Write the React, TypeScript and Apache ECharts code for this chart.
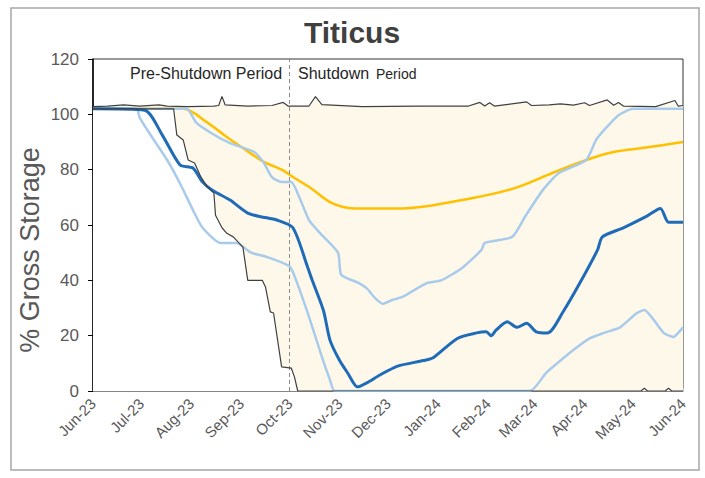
import React, { useEffect, useRef } from "react";
import * as echarts from "echarts";

type Pt = [string, number];

const title = "Titicus";
const yAxisName = "% Gross Storage";
const shutdownStart = "2023-10-01";
const yTicks = [0, 20, 40, 60, 80, 100, 120];

const maxSeries: Pt[] = [
  ["2023-06-01", 102.8], ["2023-06-10", 103], ["2023-06-20", 103.4], ["2023-06-30", 103],
  ["2023-07-12", 103.4], ["2023-07-17", 103], ["2023-07-30", 102.8], ["2023-08-15", 103],
  ["2023-08-18", 103.2], ["2023-08-20", 106.5], ["2023-08-22", 103.4], ["2023-09-05", 103],
  ["2023-09-20", 103.2], ["2023-09-27", 104.3], ["2023-09-30", 103], ["2023-10-13", 103],
  ["2023-10-17", 106.4], ["2023-10-21", 103.5], ["2023-11-15", 102.8], ["2023-12-20", 103],
  ["2024-01-20", 103], ["2024-01-27", 104.3], ["2024-01-30", 103], ["2024-02-02", 104.2],
  ["2024-02-05", 103], ["2024-02-25", 104.5], ["2024-02-28", 103.2], ["2024-03-10", 103.4],
  ["2024-03-17", 103.8], ["2024-03-25", 103.3], ["2024-04-01", 104.2], ["2024-04-04", 103.2],
  ["2024-04-15", 105.2], ["2024-04-19", 103.3], ["2024-04-22", 104.3], ["2024-04-25", 103],
  ["2024-05-15", 102.8], ["2024-05-27", 105], ["2024-05-29", 103], ["2024-06-01", 103.2],
];

const minSeries: Pt[] = [
  ["2023-06-01", 102], ["2023-07-21", 102], ["2023-07-23", 92.5], ["2023-07-27", 90.7],
  ["2023-07-30", 83.5], ["2023-08-03", 82.4], ["2023-08-07", 77.3], ["2023-08-11", 73.7],
  ["2023-08-15", 71.5], ["2023-08-16", 63.5], ["2023-08-20", 59], ["2023-08-23", 57],
  ["2023-08-27", 55.7], ["2023-09-02", 52], ["2023-09-05", 40], ["2023-09-14", 40],
  ["2023-09-16", 37.6], ["2023-09-19", 28.6], ["2023-09-21", 28.2], ["2023-09-26", 8.7],
  ["2023-10-02", 8.3], ["2023-10-04", 5], ["2023-10-06", 0], ["2024-05-06", 0],
  ["2024-05-08", 1], ["2024-05-10", 0], ["2024-05-21", 0], ["2024-05-23", 1],
  ["2024-05-25", 0], ["2024-06-01", 0],
];

const upperBand: Pt[] = [
  ["2023-06-01", 102], ["2023-07-29", 102], ["2023-08-04", 97], ["2023-08-14", 93],
  ["2023-08-25", 89.6], ["2023-09-09", 86.4], ["2023-09-15", 82.4], ["2023-09-20", 77.3],
  ["2023-09-26", 75.5], ["2023-10-02", 75.5], ["2023-10-07", 70], ["2023-10-13", 61.8],
  ["2023-10-20", 57], ["2023-10-31", 50], ["2023-11-02", 42], ["2023-11-13", 39],
  ["2023-11-18", 37], ["2023-11-23", 33.6], ["2023-11-28", 31.5], ["2023-12-04", 33],
  ["2023-12-10", 34], ["2023-12-25", 39], ["2024-01-03", 40], ["2024-01-16", 44.5],
  ["2024-01-28", 51], ["2024-01-30", 53.5], ["2024-02-16", 55.7], ["2024-02-24", 63],
  ["2024-03-06", 72.6], ["2024-03-16", 78.8], ["2024-04-02", 83.5], ["2024-04-08", 90.7],
  ["2024-04-13", 94.3], ["2024-04-22", 99.7], ["2024-05-01", 102], ["2024-06-01", 102],
];

const lowerBand: Pt[] = [
  ["2023-06-01", 102], ["2023-06-28", 102], ["2023-06-30", 98.7], ["2023-07-08", 91.4],
  ["2023-07-17", 83.5], ["2023-07-25", 75], ["2023-08-02", 65.4], ["2023-08-08", 59],
  ["2023-08-19", 53.5], ["2023-08-29", 53.5], ["2023-09-07", 50], ["2023-09-17", 48.4],
  ["2023-10-01", 45], ["2023-10-05", 40], ["2023-10-13", 26.8], ["2023-10-21", 12.3],
  ["2023-10-26", 4], ["2023-10-29", 0], ["2024-02-27", 0], ["2024-03-08", 6.5],
  ["2024-03-17", 11], ["2024-03-25", 14.8], ["2024-04-04", 19], ["2024-04-13", 21],
  ["2024-04-23", 23], ["2024-05-03", 28], ["2024-05-08", 29.3], ["2024-05-14", 25.6],
  ["2024-05-20", 21], ["2024-05-26", 19.5], ["2024-05-29", 21], ["2024-06-01", 23],
];

const projection: Pt[] = [
  ["2023-06-01", 102], ["2023-07-03", 101.5], ["2023-07-14", 92.5], ["2023-07-25", 81.7],
  ["2023-08-02", 80.6], ["2023-08-08", 75.5], ["2023-08-14", 72.6], ["2023-08-25", 69],
  ["2023-09-05", 64.3], ["2023-09-13", 63], ["2023-09-23", 61.8], ["2023-10-03", 59],
  ["2023-10-12", 45], ["2023-10-15", 40], ["2023-10-22", 29], ["2023-10-26", 18.4],
  ["2023-11-01", 11], ["2023-11-06", 6.5], ["2023-11-12", 1.5], ["2023-11-18", 3],
  ["2023-11-26", 5.8], ["2023-12-07", 9], ["2023-12-23", 11], ["2023-12-29", 12],
  ["2024-01-13", 19], ["2024-01-25", 21], ["2024-01-31", 21.4], ["2024-02-03", 20],
  ["2024-02-06", 22], ["2024-02-13", 25], ["2024-02-19", 23], ["2024-02-25", 24.5],
  ["2024-03-02", 21.4], ["2024-03-09", 21], ["2024-03-19", 29], ["2024-03-29", 39],
  ["2024-04-09", 51], ["2024-04-12", 55.7], ["2024-04-25", 59], ["2024-05-09", 63],
  ["2024-05-18", 66], ["2024-05-23", 61], ["2024-06-01", 61],
];

const typical: Pt[] = [
  ["2023-06-01", 102], ["2023-07-27", 102], ["2023-08-11", 97], ["2023-08-23", 91.8],
  ["2023-09-02", 87.8], ["2023-09-15", 82.8], ["2023-09-26", 80], ["2023-10-04", 77],
  ["2023-10-14", 73.4], ["2023-10-27", 68], ["2023-11-10", 66], ["2023-12-10", 66],
  ["2024-01-22", 69.7], ["2024-02-18", 73.4], ["2024-03-12", 78.8], ["2024-04-02", 83.5],
  ["2024-04-19", 86.4], ["2024-05-09", 88], ["2024-06-01", 90],
];

export default function App() {
  const ref = useRef<HTMLDivElement>(null);
  useEffect(() => {
    if (!ref.current) return;
    const chart = echarts.init(ref.current, null, { renderer: "svg" });
    const font = "Liberation Sans, Arial, sans-serif";
    const lineSeries = (
      name: string,
      data: Pt[],
      color: string,
      width: number,
      z: number,
      smooth: number | boolean
    ) => ({
      name,
      type: "line",
      data,
      showSymbol: false,
      symbol: "none",
      smooth,
      lineStyle: { color, width },
      z,
    });
    chart.setOption({
      animation: false,
      backgroundColor: "#ffffff",
      title: {
        text: title,
        left: 347,
        top: 12,
        textAlign: "center",
        textStyle: { fontFamily: font, fontSize: 30, fontWeight: "bold", color: "#404040" },
      },
      grid: {
        left: 93,
        right: 22,
        top: 59,
        bottom: 87,
        show: true,
        borderColor: "#333333",
        borderWidth: 1,
        backgroundColor: "transparent",
      },
      xAxis: {
        type: "time",
        min: "2023-06-01",
        max: "2024-06-01",
        minInterval: 28 * 86400000,
        maxInterval: 31 * 86400000,
        axisLine: { onZero: false, lineStyle: { color: "#7f7f7f", width: 1.5 } },
        axisTick: { show: true, inside: true, length: 3, lineStyle: { color: "#bfbfbf" } },
        splitLine: { show: false },
        axisLabel: {
          formatter: "{MMM}-{yy}",
          rotate: 45,
          fontFamily: font,
          fontSize: 15,
          color: "#595959",
          margin: 10,
          showMinLabel: true,
          showMaxLabel: true,
          hideOverlap: false,
        },
      },
      yAxis: {
        type: "value",
        min: 0,
        max: 120,
        interval: 20,
        axisLine: { show: true, lineStyle: { color: "#000000", width: 1.5 } },
        axisTick: { show: true, length: 5, lineStyle: { color: "#000000", width: 1 } },
        splitLine: { show: false },
        axisLabel: {
          fontFamily: font,
          fontSize: 17,
          color: "#595959",
          margin: 14,
          formatter: (v: number) => (yTicks.includes(v) ? String(v) : ""),
        },
      },
      graphic: [
        {
          type: "rect",
          shape: { x: 11, y: 8, width: 688, height: 462 },
          style: { fill: "none", stroke: "#a6a6a6", lineWidth: 1.5 },
          z: -1,
          silent: true,
        },
        {
          type: "text",
          x: 30,
          y: 250,
          rotation: Math.PI / 2,
          style: {
            text: yAxisName,
            font: `27px ${font}`,
            fill: "#595959",
            align: "center",
            verticalAlign: "middle",
          },
        },
        {
          type: "text",
          x: 130,
          y: 65,
          style: { text: "Pre-Shutdown Period", font: `16px ${font}`, fill: "#262626" },
        },
        {
          type: "text",
          x: 298,
          y: 65,
          style: { text: "Shutdown ", font: `16px ${font}`, fill: "#262626" },
        },
        {
          type: "text",
          x: 376,
          y: 67,
          style: { text: "Period", font: `14px ${font}`, fill: "#262626" },
        },
      ],
      series: [
        {
          name: "bandTop",
          type: "line",
          data: maxSeries,
          symbol: "none",
          lineStyle: { width: 0 },
          areaStyle: { color: "#fdf8ea", opacity: 1 },
          z: 1,
          markLine: {
            silent: true,
            symbol: "none",
            label: { show: false },
            lineStyle: { color: "#8c8c8c", type: [4, 3], width: 1 },
            data: [{ xAxis: shutdownStart }],
          },
        },
        {
          name: "bandBottom",
          type: "line",
          data: minSeries,
          symbol: "none",
          lineStyle: { width: 0 },
          areaStyle: { color: "#ffffff", opacity: 1 },
          z: 1,
        },
        lineSeries("Typical", typical, "#ffc000", 2.5, 3, 0.3),
        lineSeries("Upper", upperBand, "#a9cbeb", 2.5, 4, 0.2),
        lineSeries("Lower", lowerBand, "#a9cbeb", 2.5, 4, 0.2),
        lineSeries("Projection", projection, "#1f6bb8", 3, 5, 0.25),
        lineSeries("Maximum", maxSeries, "#404040", 1.2, 6, false),
        lineSeries("Minimum", minSeries, "#404040", 1.2, 6, false),
      ],
    });
    return () => chart.dispose();
  }, []);
  return (
    <div
      ref={ref}
      style={{ position: "fixed", left: 0, top: 0, width: 705, height: 478 }}
    />
  );
}
